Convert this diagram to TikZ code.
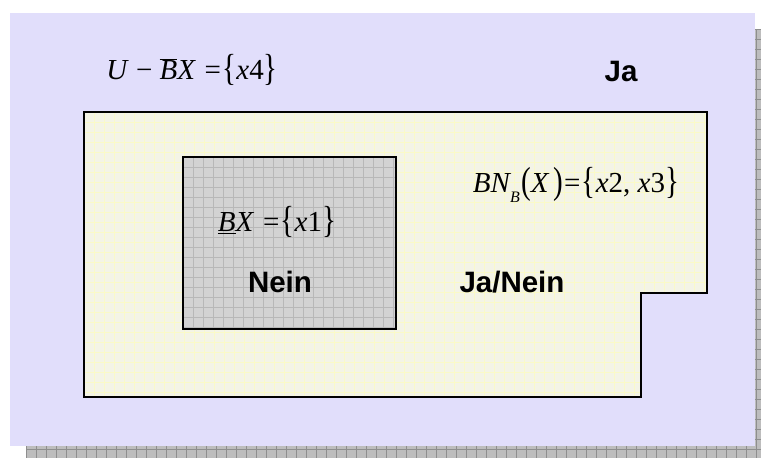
\documentclass[tikz,border=0pt]{standalone}
\usepackage{fontspec}
\newfontfamily\boldsans{Liberation Sans}
\newfontfamily\tms{Liberation Serif}
\newcommand\tall[1]{\raisebox{-0.02em}{\scalebox{1}[1.3]{\upshape #1}}}
\tikzset{
  lbl/.style={font=\boldsans\bfseries\fontsize{29.5}{32}\selectfont, inner sep=0pt, anchor=center},
  formula/.style={font=\tms\itshape\fontsize{29}{32}\selectfont, inner sep=0pt, anchor=center},
  border/.style={draw=black, line width=2pt},
}
\definecolor{lav}{HTML}{E1DEFB}
\definecolor{shadowgray}{HTML}{BDBDBD}
\definecolor{shadowline}{HTML}{8E8E8E}
\definecolor{beige}{HTML}{F4F4E6}
\definecolor{beigeline}{HTML}{FAFAC8}
\definecolor{boxgray}{HTML}{D3D3D3}
\definecolor{boxline}{HTML}{B8B8B8}
\begin{document}
\begin{tikzpicture}[x=1pt,y=-1pt]
\useasboundingbox (0,0) rectangle (761,458);
% shadow
\fill[shadowgray] (26,29) rectangle (761,458);
\begin{scope}
\clip (26,29) rectangle (761,458);
\foreach \i in {0,...,74} \draw[shadowline, line width=0.6pt] (26+10*\i,29) -- (26+10*\i,458);
\foreach \j in {0,...,43} \draw[shadowline, line width=0.6pt] (26,29+10*\j) -- (761,29+10*\j);
\end{scope}
% background
\fill[lav] (10,13) rectangle (755,446);
% outer region
\path[fill=beige] (84,112) -- (707,112) -- (707,293) -- (641,293) -- (641,397) -- (84,397) -- cycle;
\begin{scope}
\clip (84,112) -- (707,112) -- (707,293) -- (641,293) -- (641,397) -- (84,397) -- cycle;
\foreach \i in {0,...,63} \draw[beigeline, line width=0.7pt] (84+10*\i,112) -- (84+10*\i,397);
\foreach \j in {0,...,29} \draw[beigeline, line width=0.7pt] (84,112+10*\j) -- (707,112+10*\j);
\end{scope}
\draw[border, line join=miter] (84,112) -- (707,112) -- (707,293) -- (641,293) -- (641,397) -- (84,397) -- cycle;
% inner box
\fill[boxgray] (183,157) rectangle (396,329);
\begin{scope}
\clip (183,157) rectangle (396,329);
\foreach \i in {0,...,22} \draw[boxline, line width=0.6pt] (183+10*\i,157) -- (183+10*\i,329);
\foreach \j in {0,...,18} \draw[boxline, line width=0.6pt] (183,157+10*\j) -- (396,157+10*\j);
\end{scope}
\draw[border] (183,157) rectangle (396,329);
% texts
\node[formula] (ubx) at (192,70) {U\/\kern0.25em\textup{−}\kern0.25em$\overline{\hbox{\tms\itshape B}}$X\/\kern0.3em\textup{=}\kern0.05em\tall{\{}x\textup{4}\tall{\}}};
\node[lbl] (ja) at (621,71) {Ja};
\node[formula] (bnb) at (576,185) {BN\raisebox{-0.35em}{\fontsize{16}{18}\selectfont B}\kern0.05em\tall{(}X\/\kern0.12em\tall{)}\kern0.05em\textup{=}\kern0.05em\tall{\{}x\textup{2,} x\textup{3}\tall{\}}};
\node[formula] (lower) at (277,222) {$\underline{\hbox{\tms\itshape B}}$X\/\kern0.3em\textup{=}\kern0.05em\tall{\{}x\textup{1}\tall{\}}};
\node[lbl] (nein) at (280,282) {Nein};
\node[lbl] (janein) at (512,282) {Ja/Nein};
\end{tikzpicture}
\end{document}
